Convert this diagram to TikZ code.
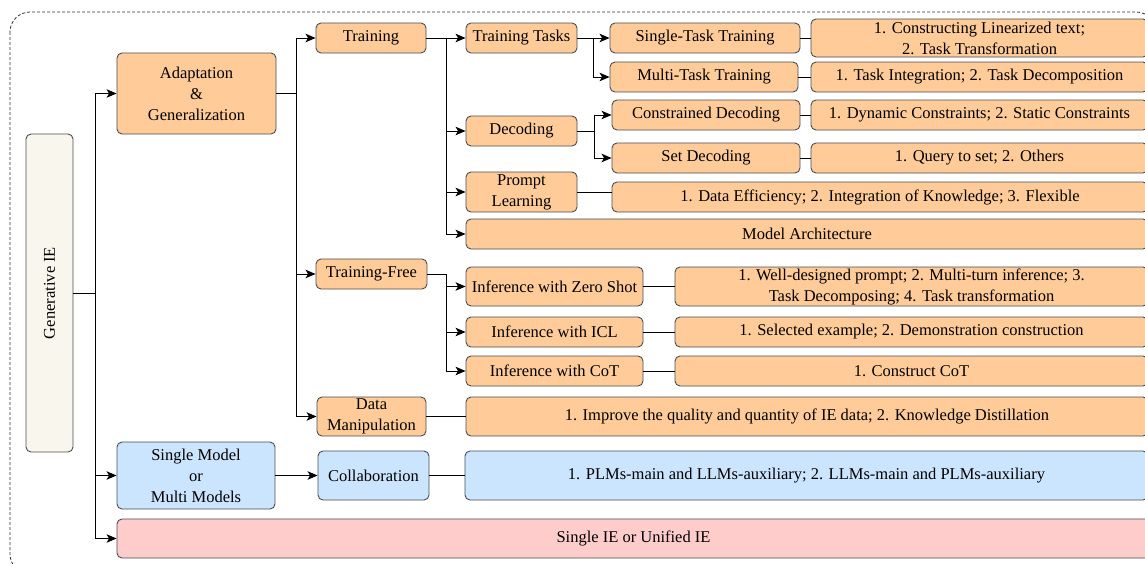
\documentclass[tikz,border=0pt]{standalone}
\usepackage{fontspec}
\setmainfont{Liberation Serif}
\usetikzlibrary{arrows.meta}
\definecolor{orangef}{HTML}{FFCC99}
\definecolor{bluef}{HTML}{CCE5FF}
\definecolor{pinkf}{HTML}{FFCCCC}
\definecolor{beigef}{HTML}{F9F7ED}
\definecolor{strokec}{HTML}{4A4C50}
\tikzset{
  box/.style={draw=strokec, line width=0.9pt, rounded corners=5pt, inner sep=0pt, align=center, font=\rmfamily\fontsize{16.5}{21}\selectfont},
  obox/.style={box, fill=orangef},
  bbox/.style={box, fill=bluef},
  pbox/.style={box, fill=pinkf},
  gbox/.style={box, fill=beigef},
  conn/.style={line width=1pt, black},
  arr/.style={conn, -{Stealth[length=10pt,width=8.5pt,inset=2.5pt]}},
}
% place a box by its corners (x1,y1,x2,y2) in pixel coordinates
\newcommand{\mybox}[7]{%
  \node[#1, minimum width={(#5-#3)*1pt}, minimum height={(#6-#4)*1pt}] (#2) at ({(#3+#5)/2},{(#4+#6)/2}) {#7};}
\begin{document}
\begin{tikzpicture}[x=1pt,y=-1pt]
\useasboundingbox (0,0) rectangle (1145,563);
\draw[line width=0.8pt, color=black!80, dash pattern=on 3pt off 2pt, rounded corners=20pt] (10,12) rectangle (1156,574);

\mybox{gbox}{gen}{26}{134}{73}{452}{}
\node[rotate=90, font=\rmfamily\fontsize{16.5}{21}\selectfont] (gentext) at (gen.center) {Generative IE};
\mybox{obox}{ada}{117}{53}{276}{134}{Adaptation\\\&\\Generalization}
\mybox{bbox}{smm}{117}{442}{275}{509}{Single Model\\or\\Multi Models}
\mybox{pbox}{sie}{117}{519}{1150}{558}{Single IE or Unified IE}

\mybox{obox}{tr}{316}{23}{426}{53}{Training}
\mybox{obox}{tf}{316}{259}{427}{289}{Training-Free}
\mybox{obox}{dm}{317}{397}{426}{436}{Data\\Manipulation}
\mybox{bbox}{col}{318}{451}{429}{500}{Collaboration}

\mybox{obox}{tt}{466}{23}{577}{53}{Training Tasks}
\mybox{obox}{dec}{466}{116}{577}{146}{Decoding}
\mybox{obox}{pl}{466}{172}{577}{212}{Prompt\\Learning}
\mybox{obox}{ma}{466}{219}{1148}{249}{Model Architecture}

\mybox{obox}{st}{610}{23}{800}{53}{Single-Task Training}
\mybox{obox}{mt}{610}{62}{798}{92}{Multi-Task Training}
\mybox{obox}{cd}{612}{100}{800}{130}{Constrained Decoding}
\mybox{obox}{sd}{612}{143}{800}{173}{Set Decoding}
\mybox{obox}{d1}{811}{19}{1148}{57}{1. Constructing Linearized text;\\2. Task Transformation}
\mybox{obox}{d2}{811}{62}{1148}{92}{1. Task Integration; 2. Task Decomposition}
\mybox{obox}{d3}{811}{100}{1148}{130}{1. Dynamic Constraints; 2. Static Constraints}
\mybox{obox}{d4}{811}{143}{1148}{173}{1. Query to set; 2. Others}
\mybox{obox}{pld}{612}{182}{1148}{212}{1. Data Efficiency; 2. Integration of Knowledge; 3. Flexible}

\mybox{obox}{zs}{466}{267}{643}{306}{Inference with Zero Shot}
\mybox{obox}{icl}{466}{317}{643}{347}{Inference with ICL}
\mybox{obox}{cot}{466}{356}{643}{386}{Inference with CoT}
\mybox{obox}{zsd}{675}{267}{1148}{306}{1. Well-designed prompt; 2. Multi-turn inference; 3.\\Task Decomposing; 4. Task transformation}
\mybox{obox}{icld}{675}{317}{1148}{347}{1. Selected example; 2. Demonstration construction}
\mybox{obox}{cotd}{675}{356}{1148}{386}{1. Construct CoT}
\mybox{obox}{dmd}{466}{397}{1148}{436}{1. Improve the quality and quantity of IE data; 2. Knowledge Distillation}
\mybox{bbox}{cold}{465}{451}{1148}{500}{1. PLMs-main and LLMs-auxiliary; 2. LLMs-main and PLMs-auxiliary}

% junctions
\coordinate (j0) at (95,293);
\coordinate (j1) at (296,93.5);
\coordinate (j2) at (446,38);
\coordinate (j3) at (593,38);
\coordinate (j4) at (594,131);
\coordinate (j5) at (446,274);

\draw[conn] (gen.east) -- (j0);
\draw[arr] (j0) |- (ada.west);
\draw[arr] (j0) |- (smm.west);
\draw[arr] (j0) |- (sie.west);

\draw[conn] (ada.east) -- (j1);
\draw[arr] (j1) |- (tr.west);
\draw[arr] (j1) |- (tf.west);
\draw[arr] (j1) |- (dm.west);

\draw[conn] (tr.east) -- (j2);
\draw[arr] (j2) |- (tt.west);
\draw[arr] (j2) |- (dec.west);
\draw[arr] (j2) |- (pl.west);
\draw[arr] (j2) |- (ma.west);

\draw[conn] (tt.east) -- (j3);
\draw[arr] (j3) |- (st.west);
\draw[arr] (j3) |- (mt.west);

\draw[conn] (dec.east) -- (j4);
\draw[arr] (j4) |- (cd.west);
\draw[arr] (j4) |- (sd.west);

\draw[conn] (pl.east) -- (pl.east -| pld.west);

\draw[conn] (tf.east) -- (j5);
\draw[arr] (j5) |- (zs.west);
\draw[arr] (j5) |- (icl.west);
\draw[arr] (j5) |- (cot.west);

\draw[conn] (st.east) -- (d1.west);
\draw[conn] (mt.east) -- (d2.west);
\draw[conn] (cd.east) -- (d3.west);
\draw[conn] (sd.east) -- (d4.west);
\draw[conn] (zs.east) -- (zsd.west);
\draw[conn] (icl.east) -- (icld.west);
\draw[conn] (cot.east) -- (cotd.west);
\draw[conn] (dm.east) -- (dmd.west);
\draw[arr] (smm.east) -- (col.west);
\draw[conn] (col.east) -- (cold.west);
\end{tikzpicture}
\end{document}
